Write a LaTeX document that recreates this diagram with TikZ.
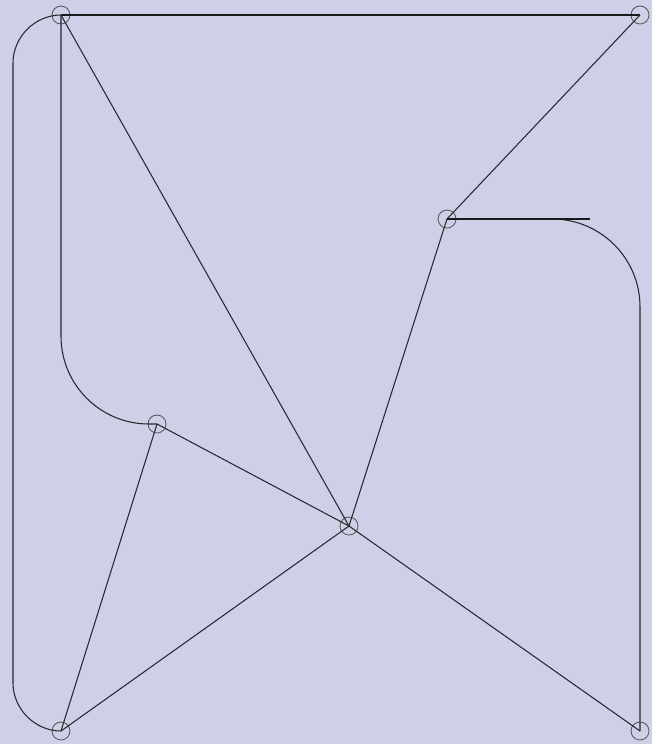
\documentclass[tikz,border=0pt]{standalone}
\usetikzlibrary{positioning}
\definecolor{bgcol}{RGB}{205,208,230}
\definecolor{edgecol}{RGB}{40,40,45}
\tikzset{
  vtx/.style={circle,draw=black!65,line width=0.5pt,minimum size=0.36cm,inner sep=0pt},
  edge/.style={draw=edgecol,line width=0.6pt},
  heavy/.style={draw=black!90,line width=1.3pt}
}
\begin{document}
\begin{tikzpicture}[x=0.02cm,y=-0.02cm]
            \fill[bgcol] (0,0) rectangle (652,744);
            \useasboundingbox (0,0) rectangle (652,744);
            % vertices
            \node[vtx] (a) at (61,15) {};
            \node[vtx] (b) at (640,15) {};
            \node[vtx] (c) at (447,219) {};
            \node[vtx] (d) at (157,424) {};
            \node[vtx] (e) at (349,526) {};
            \node[vtx] (f) at (61,731) {};
            \node[vtx] (g) at (640,731) {};
            \coordinate (cbend) at (590,219);
            % straight edges
            \draw[heavy] (a.center)--(b.center);
            \draw[edge] (b.center)--(c.center);
            \draw[edge] (c.center)--(e.center);
            \draw[edge] (a.center)--(e.center);
            \draw[edge] (d.center)--(e.center);
            \draw[edge] (d.center)--(f.center);
            \draw[edge] (e.center)--(f.center);
            \draw[edge] (e.center)--(g.center);
            % bent edges
            \draw[edge,rounded corners=50] (a.center)--(61,424)--(d.center);
            \draw[edge] (a.center) .. controls (35,15) and (13,37) .. (13,63)
                        -- (13,683) .. controls (13,709) and (35,731) .. (f.center);
            \draw[edge,rounded corners=50] (c.center)--(640,219)--(g.center);
            \draw[heavy] (c.center)--(cbend);
\end{tikzpicture}
\end{document}
